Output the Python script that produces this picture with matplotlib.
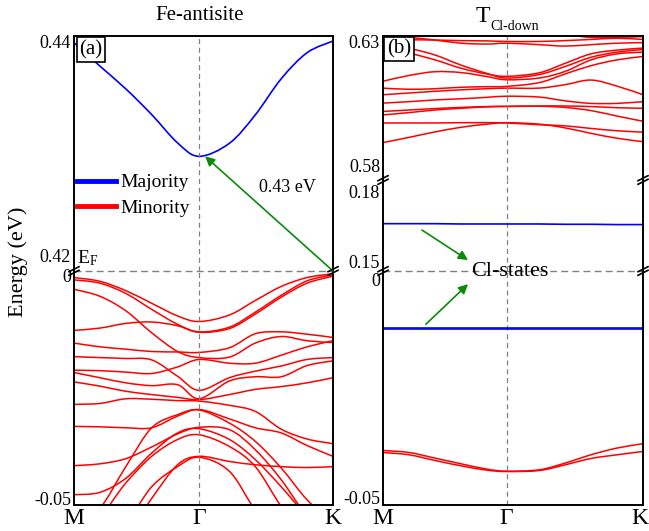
import matplotlib
matplotlib.use("Agg")
import matplotlib.pyplot as plt
from matplotlib.lines import Line2D
from matplotlib.path import Path
from matplotlib.patches import PathPatch
from matplotlib.transforms import ScaledTranslation, blended_transform_factory
import numpy as np

plt.rcParams['font.family'] = ['Liberation Serif', 'DejaVu Serif']
plt.rcParams['mathtext.fontset'] = 'custom'
plt.rcParams['mathtext.rm'] = 'Liberation Serif'
plt.rcParams['mathtext.it'] = 'Liberation Serif:italic'

# ---------------- data ----------------
k_labels = ['M', 'Γ', 'K']
k_left = [0, .1, .2, .3, .4, .483, .6, .7, .8, .9, 1.0]
k_right = [0, .1, .2, .3, .4, .475, .6, .7, .8, .9, 1.0]
kG_left = 0.483
kG_right = 0.475

# Fe-antisite: majority conduction band (eV)
fe_majority_cb = [0.43943, 0.43744, 0.43550, 0.43331, 0.43090, 0.42976,
                  0.43087, 0.43329, 0.43636, 0.43858, 0.43957]

# Fe-antisite: minority valence bands (meV)
fe_vb01 = [-1.4, -2.2, -4.2, -6.9, -9.6, -10.8, -9.4, -6.3, -3.3, -1.4, -0.6]
fe_vb02 = [-1.9, -2.6, -4.8, -8.2, -11.4, -13.0, -12.0, -8.8, -5.2, -2.1, -0.8]
fe_vb03 = [-12.7, -12.2, -11.2, -10.9, -11.7, -13.1, -12.3, -9.2, -5.6, -2.6, -1.1]
fe_vb04 = [-3.9, -5.4, -8.5, -13.2, -17.2, -18.5, -18.4, -15.4, -14.0, -14.9, -15.3]
fe_vb05 = [-15.4, -16.2, -16.7, -17.2, -17.3, -17.4, -16.4, -13.4, -13.0, -13.5, -14.2]
fe_vb06 = [-18.3, -18.5, -18.7, -19.0, -22.5, -25.5, -22.8, -21.4, -20.3, -18.9, -18.5]
fe_vb07 = [-21.2, -21.3, -21.6, -21.9, -20.5, -18.9, -19.7, -19.7, -18.0, -16.2, -14.9]
fe_vb08 = [-21.7, -22.8, -23.9, -24.5, -24.3, -27.3, -23.5, -22.6, -22.6, -20.2, -19.2]
fe_vb09 = [-23.7, -24.6, -25.7, -26.4, -27.0, -27.5, -26.4, -25.3, -24.7, -23.9, -22.8]
fe_vb10 = [-28.5, -28.3, -27.3, -27.4, -27.7, -27.8, -28.7, -30.0, -33.8, -35.9, -36.9]
fe_vb11 = [-33.2, -33.3, -33.5, -33.5, -31.0, -29.6, -31.6, -33.5, -34.6, -37.3, -39.6]
fe_vb12 = [-54.6, -50.7, -41.8, -33.5, -30.7, -29.7, -32.5, -36.4, -42.1, -48.9, -53.9]
fe_vb13 = [-41.6, -41.2, -40.1, -37.6, -34.8, -33.4, -33.9, -38.2, -44.6, -52.5, -58.2]
fe_vb14 = [-47.8, -47.3, -44.3, -38.9, -34.6, -33.7, -36.0, -40.3, -46.1, -52.5, -58.2]
fe_vb15 = [-62.0, -60.0, -56.8, -48.6, -41.4, -39.6, -40.7, -41.4, -41.8, -42.0, -41.8]
fe_vb16 = [-62.0, -58.0, -53.9, -46.1, -41.8, -39.8, -42.8, -51.1, -57.0, -60.0, -63.0]
fe_vb17 = [-56.1, -52.5, -45.3, -39.6, -36.0, -35.0, -37.5, -41.8, -50.3, -57.0, -60.0]
fe_minority_vb = [fe_vb01, fe_vb02, fe_vb03, fe_vb04, fe_vb05, fe_vb06, fe_vb07,
                  fe_vb08, fe_vb09, fe_vb10, fe_vb11, fe_vb12, fe_vb13, fe_vb14,
                  fe_vb15, fe_vb16, fe_vb17]

# T_Cl-down: minority conduction bands (meV)
cl_cb01 = [593.0, 594.8, 596.7, 598.3, 599.4, 599.9, 599.4, 598.1, 596.2, 594.5, 593.3]
cl_cb02 = [599.8, 599.8, 599.8, 599.9, 599.9, 599.8, 599.2, 598.8, 597.9, 597.1, 596.6]
cl_cb03 = [603.8, 604.3, 604.8, 605.2, 605.5, 605.6, 605.6, 605.2, 604.1, 602.2, 600.4]
cl_cb04 = [602.6, 603.4, 604.3, 604.9, 605.4, 605.5, 605.7, 605.7, 605.5, 605.1, 604.9]
cl_cb05 = [606.7, 607.2, 607.8, 608.2, 608.7, 609.1, 608.8, 607.5, 606.6, 606.6, 607.2]
cl_cb06 = [609.6, 610.2, 610.8, 611.3, 611.7, 611.9, 611.9, 613.1, 614.7, 612.6, 609.6]
cl_cb07 = [611.9, 611.5, 611.7, 612.2, 612.4, 612.5, 613.8, 616.8, 619.7, 621.7, 622.9]
cl_cb08 = [614.3, 616.3, 617.6, 617.3, 615.9, 614.8, 615.4, 617.7, 621.7, 623.8, 624.4]
cl_cb09 = [625.1, 624.0, 621.7, 618.8, 616.8, 616.0, 617.2, 620.5, 623.8, 625.1, 625.8]
cl_cb10 = [626.9, 625.7, 623.4, 619.9, 617.0, 615.4, 616.6, 619.4, 622.6, 624.4, 625.3]
cl_cb11 = [630.0, 629.5, 628.6, 627.5, 627.2, 627.5, 627.0, 626.5, 627.0, 627.5, 627.7]
cl_cb12 = [628.8, 628.7, 628.6, 628.4, 628.3, 628.1, 628.1, 628.4, 628.8, 629.2, 628.8]
cl_cb13 = [631.5, 631.5, 631.5, 631.5, 631.5, 631.5, 631.2, 630.5, 629.5, 629.5, 629.8]
cl_minority_cb = [cl_cb01, cl_cb02, cl_cb03, cl_cb04, cl_cb05, cl_cb06, cl_cb07,
                  cl_cb08, cl_cb09, cl_cb10, cl_cb11, cl_cb12, cl_cb13]

# T_Cl-down: Cl states (eV)
cl_majority_upper = [0.1656, 0.1656, 0.1656, 0.1655, 0.1655, 0.1655, 0.1655, 0.1654, 0.1654, 0.1653, 0.1653]
cl_majority_lower_a = [-0.0122] * 11
cl_majority_lower_b = [-0.0124] * 11
cl_minority_vb_a = [-0.03835, -0.03878, -0.03998, -0.04120, -0.04234, -0.04277,
                    -0.04249, -0.04105, -0.03927, -0.03783, -0.03691]
cl_minority_vb_b = [-0.03878, -0.03927, -0.04049, -0.04163, -0.04256, -0.04285,
                    -0.04264, -0.04142, -0.04006, -0.03927, -0.03856]

# axis tick values
yt_left_top = [0.42, 0.44]
yt_left_bot = [-0.05, 0.0]
yt_right_top = [0.58, 0.63]
yt_right_mid = [0.15, 0.18]
yt_right_bot = [-0.05, 0.0]
gap_label = '0.43 eV'

# ---------------- figure ----------------
W, H = 649, 531
fig = plt.figure(figsize=(W / 100, H / 100), dpi=100)


def add_ax(x0, y0, x1, y1):
    return fig.add_axes([x0 / W, 1 - y1 / H, (x1 - x0) / W, (y1 - y0) / H])


RED = '#ff0000'
BLUE = '#0000ff'
GREEN = '#0a8a0a'
GRAY = '#808080'


def style(ax, ylim, ticks, fmt, offsets, kG, top=True, bottom=True, xlabels=False):
    ax.set_xlim(0, 1)
    ax.set_ylim(*ylim)
    ax.set_facecolor('none')
    for s in ax.spines.values():
        s.set_linewidth(1.4)
    ax.spines['top'].set_visible(top)
    ax.spines['bottom'].set_visible(bottom)
    ax.set_yticks([])
    tr = blended_transform_factory(ax.transAxes, ax.transData)
    for v, off in zip(ticks, offsets):
        t = tr + ScaledTranslation(-3 / 100, -off / 100, fig.dpi_scale_trans)
        ax.text(0, v, fmt(v), transform=t, ha='right', va='center', fontsize=13)
    if xlabels:
        ax.set_xticks([0, kG, 1], k_labels)
        ax.tick_params(axis='x', length=0, labelsize=17, pad=2)
    else:
        ax.set_xticks([])
    ax.axvline(kG, color=GRAY, ls=(0, (4, 3)), lw=0.9)


def fmt(v):
    if v == 0:
        return '0'
    return ('%.2f' % v)


def smooth_band(ax, k, e, color, lw):
    """Draw a band through its read points as a smooth cubic Bezier path in data coords."""
    P = np.column_stack([np.asarray(k, float), np.asarray(e, float)])
    n = len(P)
    verts = [P[0]]
    codes = [Path.MOVETO]
    for i in range(n - 1):
        p0 = P[i - 1] if i > 0 else P[i]
        p1, p2 = P[i], P[i + 1]
        p3 = P[i + 2] if i + 2 < n else P[i + 1]
        c1 = p1 + (p2 - p0) / 6.0
        c2 = p2 - (p3 - p1) / 6.0
        verts += [c1, c2, p2]
        codes += [Path.CURVE4] * 3
    ax.add_patch(PathPatch(Path(verts, codes), fill=False, edgecolor=color, lw=lw,
                           capstyle='round', joinstyle='round'))


ax_lb = add_ax(74, 271, 333, 505)
ax_lt = add_ax(74, 36, 333, 271)
ax_rb = add_ax(383, 271, 643, 505)
ax_rm = add_ax(383, 180, 643, 271)
ax_rt = add_ax(383, 36, 643, 180)

style(ax_lt, (0.42, 0.44), yt_left_top, fmt, [-13, 7], kG_left, top=True, bottom=False)
style(ax_lb, (-0.05, 0.0), yt_left_bot, fmt, [-5, 6], kG_left, top=False, bottom=True, xlabels=True)
style(ax_rt, (0.58, 0.63), yt_right_top, fmt, [-13, 7], kG_right, top=True, bottom=False)
style(ax_rm, (0.15, 0.18), yt_right_mid, fmt, [-8, 13], kG_right, top=False, bottom=False)
style(ax_rb, (-0.05, 0.0), yt_right_bot, fmt, [-6, 10], kG_right, top=False, bottom=True, xlabels=True)

# keep the K label of the right panel inside the canvas
klab = ax_rb.get_xticklabels()[2]
klab.set_ha('right')
klab.set_transform(klab.get_transform() + ScaledTranslation(5 / 100, 0, fig.dpi_scale_trans))

# bands
smooth_band(ax_lt, k_left, fe_majority_cb, BLUE, 1.2)
for b in fe_minority_vb:
    smooth_band(ax_lb, k_left, np.array(b) / 1000.0, RED, 1.1)

for b in cl_minority_cb:
    smooth_band(ax_rt, k_right, np.array(b) / 1000.0, RED, 1.1)
ax_rm.plot(k_right, cl_majority_upper, color=BLUE, lw=1.2)
ax_rb.plot(k_right, cl_majority_lower_a, color=BLUE, lw=1.2)
ax_rb.plot(k_right, cl_majority_lower_b, color=BLUE, lw=1.2)
smooth_band(ax_rb, k_right, cl_minority_vb_a, RED, 1.1)
smooth_band(ax_rb, k_right, cl_minority_vb_b, RED, 1.1)

# Fermi level
for ax in (ax_lb, ax_rb):
    ax.axhline(0, color=GRAY, ls=(0, (5, 3)), lw=1.0, clip_on=False)

# panel labels
ax_lt.text(0.064, 0.9426, '(a)', transform=ax_lt.transAxes, ha='center', va='center', fontsize=15,
           bbox=dict(boxstyle='square,pad=0.12', fc='white', ec='black', lw=1.2), zorder=6)
ax_rt.text(0.0615, 0.91, '(b)', transform=ax_rt.transAxes, ha='center', va='center', fontsize=15,
           bbox=dict(boxstyle='square,pad=0.12', fc='white', ec='black', lw=1.2), zorder=6)

# titles
fig.text(200 / W, 1 - 16 / H, 'Fe-antisite', ha='center', va='center', fontsize=15)
fig.text(483 / W, 1 - 17 / H, 'T', ha='center', va='center', fontsize=17)
fig.text(490 / W, 1 - 26 / H, 'Cl-down', ha='left', va='center', fontsize=10)

# y label
fig.text(18 / W, 1 - 262 / H, 'Energy (eV)', rotation=90, ha='center', va='center', fontsize=16)

# legend
handles = [Line2D([], [], color=BLUE, lw=3.5), Line2D([], [], color=RED, lw=3.5)]
ax_lt.legend(handles, ['Majority', 'Minority'], loc='upper left', bbox_to_anchor=(0.012, 0.414),
             frameon=False, fontsize=14, handlelength=2.0, handletextpad=0.25,
             labelspacing=0.4, borderaxespad=0, borderpad=0)

# E_F label
ax_lt.text(0.012, 0.4211, r'$\mathregular{E_F}$', ha='left', va='center', fontsize=14)

# gap arrow
ax_lt.annotate('', xy=(0.506, min(fe_majority_cb)), xycoords='data',
               xytext=(1.0, 0.0), textcoords=ax_lb.transData,
               arrowprops=dict(arrowstyle='-|>', color=GREEN, lw=1.2, mutation_scale=14,
                               shrinkA=0, shrinkB=0))
ax_lt.text(0.826, 0.4271, gap_label, ha='center', va='center', fontsize=13)

# Cl-states
fig.text(510 / W, 1 - 271 / H, 'Cl-states', ha='center', va='center', fontsize=16, zorder=10)
ax_rm.annotate('', xy=(0.327, 0.1536), xytext=(0.15, 0.1635),
               arrowprops=dict(arrowstyle='-|>', color=GREEN, lw=1.2, mutation_scale=14,
                               shrinkA=0, shrinkB=0))
ax_rb.annotate('', xy=(0.327, -0.0028), xytext=(0.165, -0.01137),
               arrowprops=dict(arrowstyle='-|>', color=GREEN, lw=1.2, mutation_scale=14,
                               shrinkA=0, shrinkB=0))


# break marks
def break_mark(xp, yp):
    for dy in (-1.8, 1.8):
        fig.add_artist(Line2D([(xp - 5) / W, (xp + 5) / W],
                              [1 - (yp + dy + 2.5) / H, 1 - (yp + dy - 2.5) / H],
                              color='black', lw=1.2))


for xp, yp in [(74, 271), (333, 271), (383, 180), (643, 180), (383, 271), (643, 271)]:
    break_mark(xp, yp)

fig.savefig('out.png', dpi=100)
